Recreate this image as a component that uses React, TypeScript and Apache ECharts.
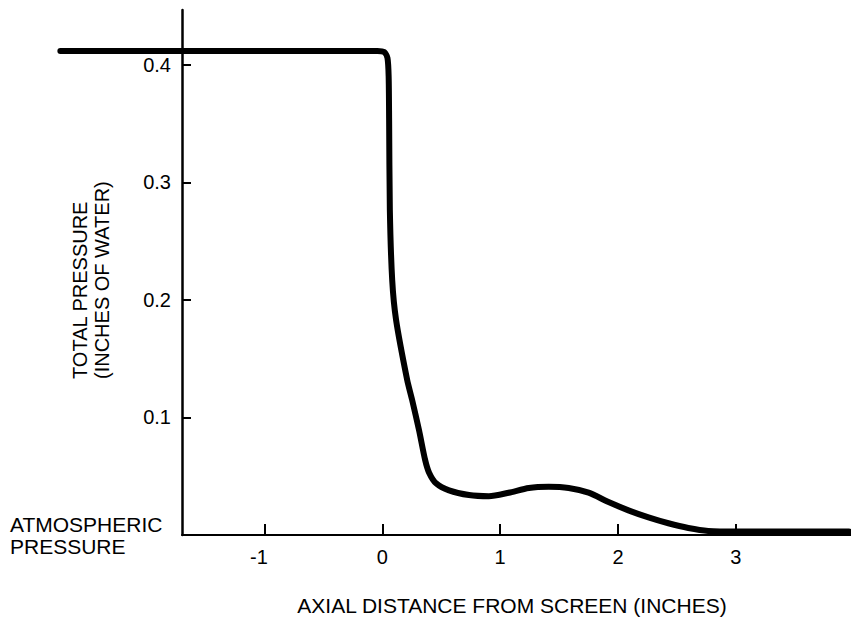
import React, { useEffect, useRef } from "react";
import * as echarts from "echarts";

// Axial distance from the screen (inches) and total pressure (inches of water)
const distance = [
  -2.73, -0.04, 0.017, 0.045, 0.055, 0.059, 0.065, 0.085, 0.118, 0.212, 0.254,
  0.313, 0.364, 0.398, 0.457, 0.567, 0.736, 0.905, 1.074, 1.244, 1.413, 1.582,
  1.751, 1.92, 2.089, 2.259, 2.428, 2.597, 2.766, 3.02, 3.96,
];
const pressure = [
  0.412, 0.412, 0.411, 0.406, 0.39, 0.353, 0.277, 0.217, 0.183, 0.132, 0.115,
  0.089, 0.064, 0.053, 0.044, 0.038, 0.034, 0.033, 0.036, 0.04, 0.041, 0.04,
  0.036, 0.028, 0.021, 0.015, 0.01, 0.006, 0.0035, 0.003, 0.003,
];

const xTicks = [-1, 0, 1, 2, 3];
const yTicks = [0.1, 0.2, 0.3, 0.4];

const xTitle = "AXIAL DISTANCE FROM SCREEN (INCHES)";
const yTitleLines = ["TOTAL PRESSURE", "(INCHES OF WATER)"];
const baselineLabel = ["ATMOSPHERIC", "PRESSURE"];

const FONT = "'Liberation Sans', Arial, Helvetica, sans-serif";
const INK = "#000";

// Shared scale limits: the curve runs further left than the drawn axes begin.
const X_AXIS_MIN = -1.7;
const X_CURVE_MIN = -2.733;
const X_MAX = 3.977;
const Y_MAX = 0.4468;

export default function App() {
  const ref = useRef<HTMLDivElement>(null);

  useEffect(() => {
    if (!ref.current) return;
    const chart = echarts.init(ref.current, null, { renderer: "svg" });

    const textBase = { fontFamily: FONT, fontSize: 20, fill: INK };

    chart.setOption({
      animation: false,
      backgroundColor: "#fff",
      grid: [
        // frame with the visible axes
        { left: 182, right: -2, top: 10, bottom: 83 },
        // wider frame that carries the curve, same scale per inch
        { left: 60, right: -2, top: 10, bottom: 83 },
      ],
      xAxis: [
        {
          type: "value",
          gridIndex: 0,
          min: X_AXIS_MIN,
          max: X_MAX,
          axisLine: { show: true, onZero: false, lineStyle: { color: INK, width: 2 } },
          axisTick: {
            show: true,
            inside: true,
            length: 11,
            customValues: xTicks,
            lineStyle: { color: INK, width: 2 },
          },
          axisLabel: {
            customValues: xTicks,
            margin: 12,
            color: INK,
            fontFamily: FONT,
            fontSize: 20,
            formatter: (v: number) => (v === -1 ? "{n|-1}" : String(v)),
            rich: {
              n: { fontFamily: FONT, fontSize: 20, color: INK, padding: [0, 11, 0, 0] },
            },
          },
          splitLine: { show: false },
        },
        {
          type: "value",
          gridIndex: 1,
          min: X_CURVE_MIN,
          max: X_MAX,
          show: false,
        },
      ],
      yAxis: [
        {
          type: "value",
          gridIndex: 0,
          min: 0,
          max: Y_MAX,
          axisLine: { show: true, onZero: false, lineStyle: { color: INK, width: 2.5 } },
          axisTick: {
            show: true,
            inside: true,
            length: 9,
            customValues: yTicks,
            lineStyle: { color: INK, width: 2 },
          },
          axisLabel: {
            customValues: yTicks,
            margin: 11,
            color: INK,
            fontFamily: FONT,
            fontSize: 20,
            formatter: (v: number) => v.toFixed(1),
          },
          splitLine: { show: false },
        },
        {
          type: "value",
          gridIndex: 1,
          min: 0,
          max: Y_MAX,
          show: false,
        },
      ],
      series: [
        {
          type: "line",
          xAxisIndex: 1,
          yAxisIndex: 1,
          data: distance.map((d, i) => [d, pressure[i]]),
          smooth: 0.25,
          clip: false,
          showSymbol: false,
          symbol: "none",
          lineStyle: { color: INK, width: 6, cap: "round", join: "round" },
          z: 3,
        },
      ],
      graphic: [
        {
          type: "text",
          left: 10,
          top: 514,
          style: { ...textBase, fontSize: 21, text: baselineLabel[0] },
        },
        {
          type: "text",
          left: 10,
          top: 536,
          style: { ...textBase, fontSize: 21, text: baselineLabel[1] },
        },
        {
          type: "text",
          x: 512,
          y: 605,
          style: { ...textBase, fontSize: 21, text: xTitle, align: "center", verticalAlign: "middle" },
        },
        {
          type: "text",
          x: 80,
          y: 379,
          rotation: Math.PI / 2,
          style: { ...textBase, text: yTitleLines[0], align: "left", verticalAlign: "middle" },
        },
        {
          type: "text",
          x: 102,
          y: 379,
          rotation: Math.PI / 2,
          style: { ...textBase, text: yTitleLines[1], align: "left", verticalAlign: "middle" },
        },
      ],
    });

    return () => chart.dispose();
  }, []);

  return <div ref={ref} style={{ width: 851, height: 618, position: "absolute", left: 0, top: 0 }} />;
}
